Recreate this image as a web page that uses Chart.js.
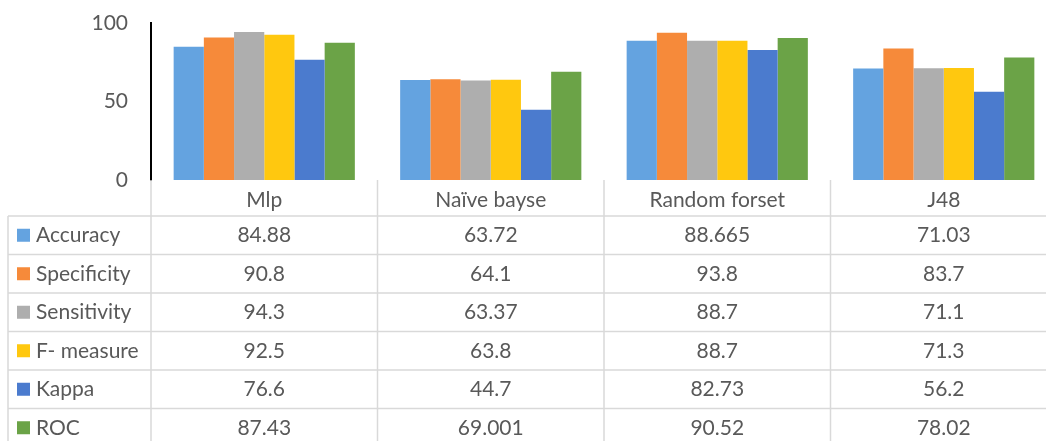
<!DOCTYPE html>
<html>
<head>
<meta charset="utf-8">
<script src="https://cdn.jsdelivr.net/npm/chart.js@4"></script>
<style>
  html, body { margin: 0; padding: 0; background: #fff; overflow: hidden; }
  #wrap { position: relative; width: 1057px; height: 441px; }
</style>
</head>
<body>
<div id="wrap"><canvas id="c"></canvas></div>
<script>
const categories = ["Mlp", "Naïve bayse", "Random forset", "J48"];
const seriesNames = ["Accuracy", "Specificity", "Sensitivity", "F- measure", "Kappa", "ROC"];
const accuracy    = [84.88, 63.72, 88.665, 71.03];
const specificity = [90.8, 64.1, 93.8, 83.7];
const sensitivity = [94.3, 63.37, 88.7, 71.1];
const fMeasure    = [92.5, 63.8, 88.7, 71.3];
const kappa       = [76.6, 44.7, 82.73, 56.2];
const roc         = [87.43, 69.001, 90.52, 78.02];
const yTicks = [0, 50, 100];

const seriesValues = [accuracy, specificity, sensitivity, fMeasure, kappa, roc];
const colors = ["#64A3E0", "#F68A3A", "#AEAEAE", "#FFC80F", "#4B7BCE", "#6BA347"];
const textColor = "#595959";
const FONT = "Lato";

const tablePlugin = {
  id: "dataTable",
  afterDraw(chart) {
    const ctx = chart.ctx;
    const xs = chart.scales.x;
    const area = chart.chartArea;
    const n = categories.length;
    const half = (xs.getPixelForValue(1) - xs.getPixelForValue(0)) / 2;
    const bounds = [];
    for (let i = 0; i < n; i++) bounds.push(xs.getPixelForValue(i) - half);
    bounds.push(xs.getPixelForValue(n - 1) + half);
    const top = area.bottom;
    const headerBottom = top + 36;
    const rowH = 38.5;
    const tableLeft = 8;
    const bottom = chart.height + 10;

    ctx.save();
    ctx.strokeStyle = "#D9D9D9";
    ctx.lineWidth = 1.5;
    ctx.beginPath();
    bounds.forEach(x => { ctx.moveTo(x, top); ctx.lineTo(x, bottom); });
    ctx.moveTo(tableLeft, headerBottom); ctx.lineTo(tableLeft, bottom);
    for (let k = 0; k <= seriesNames.length; k++) {
      const y = headerBottom + k * rowH;
      ctx.moveTo(tableLeft, y); ctx.lineTo(bounds[n] + 5, y);
    }
    ctx.stroke();

    ctx.fillStyle = textColor;
    ctx.font = "21px " + FONT;
    ctx.textBaseline = "middle";
    ctx.textAlign = "center";
    categories.forEach((c, i) => {
      ctx.fillText(c, xs.getPixelForValue(i), (top + headerBottom) / 2 + 2);
    });
    seriesNames.forEach((name, r) => {
      const cy = headerBottom + r * rowH + rowH / 2;
      ctx.fillStyle = colors[r];
      ctx.fillRect(17, cy - 6.5, 13, 13);
      ctx.fillStyle = textColor;
      ctx.textAlign = "left";
      ctx.fillText(name, 36, cy);
      ctx.textAlign = "center";
      seriesValues[r].forEach((v, i) => {
        ctx.fillText(String(v), xs.getPixelForValue(i), cy);
      });
    });
    ctx.restore();
  }
};

new Chart(document.getElementById("c"), {
  type: "bar",
  data: {
    labels: categories,
    datasets: seriesNames.map((name, i) => ({
      label: name,
      data: seriesValues[i],
      backgroundColor: colors[i],
      borderWidth: 0,
      categoryPercentage: 0.8,
      barPercentage: 1.0
    }))
  },
  options: {
    responsive: true,
    maintainAspectRatio: false,
    animation: false,
    devicePixelRatio: 1,
    layout: { padding: { top: 23, bottom: 261, left: 0, right: 0 } },
    plugins: { legend: { display: false }, tooltip: { enabled: false } },
    scales: {
      x: { display: false, offset: true },
      y: {
        min: 0, max: 100,
        afterBuildTicks(axis) { axis.ticks = yTicks.map(v => ({ value: v })); },
        afterFit(axis) {
          axis.width = 151;
          axis.paddingTop = 0; axis.paddingBottom = 0;
        },
        grid: { display: false, drawTicks: false },
        border: { display: true, color: "#000", width: 2 },
        ticks: { color: textColor, font: { family: FONT, size: 21 }, padding: 23 }
      }
    }
  },
  plugins: [tablePlugin]
});
</script>
</body>
</html>
